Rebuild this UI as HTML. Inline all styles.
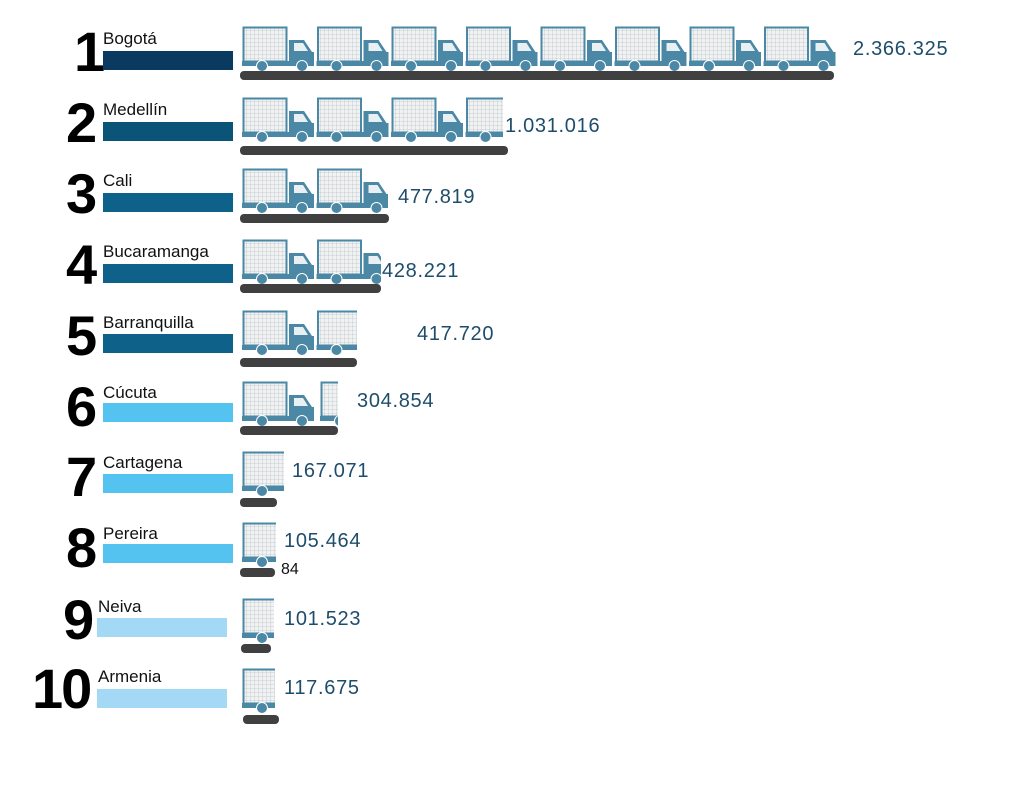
<!DOCTYPE html>
<html><head><meta charset="utf-8"><style>
body{margin:0;width:1024px;height:786px;background:#fff;position:relative;overflow:hidden;font-family:"Liberation Sans",sans-serif}
.n{position:absolute;font-weight:bold;font-size:56px;color:#000;line-height:1;letter-spacing:-2px}
.l{position:absolute;font-size:17px;color:#111;line-height:1}
.b{position:absolute;width:130px;height:19px}
.v{position:absolute;font-size:20px;color:#1e4d6b;line-height:1;letter-spacing:0.7px}
.r{position:absolute;height:9px;background:#404040;border-radius:4px}
svg.t{position:absolute;overflow:hidden}
</style></head><body>
<svg width="0" height="0" style="position:absolute">
<defs>
<pattern id="g" width="4" height="4" patternUnits="userSpaceOnUse"><rect width="4" height="4" fill="#f2f2f2"/><path d="M0 0H4M0 0V4" stroke="#b9c6cc" stroke-width="0.8"/></pattern>
<symbol id="tk" viewBox="0 0 72 46" width="72" height="46">
<rect x="1.5" y="1.5" width="43" height="34" fill="url(#g)" stroke="#4a88a6" stroke-width="2"/>
<path d="M47 14 H62 L70 26 H72 V40 H47 Z" fill="#4a88a6"/>
<path d="M52 17 H61 L66 25 H52 Z" fill="#e8f0f4"/>
<rect x="0" y="35" width="72" height="5" fill="#4a88a6"/>
<circle cx="20" cy="40" r="5.5" fill="#4a88a6" stroke="#fff" stroke-width="1"/>
<circle cx="60" cy="40" r="5.5" fill="#4a88a6" stroke="#fff" stroke-width="1"/>
</symbol>
</defs></svg>

<div class="n" style="left:74px;top:24px">1</div><div class="l" style="left:103px;top:30px">Bogotá</div><div class="b" style="left:103px;top:51px;background:#0b3a60"></div>
<svg class="t" style="left:242px;top:26px" width="596" height="46"><use href="#tk" x="0"/><use href="#tk" x="74.5"/><use href="#tk" x="149"/><use href="#tk" x="223.5"/><use href="#tk" x="298"/><use href="#tk" x="372.5"/><use href="#tk" x="447"/><use href="#tk" x="521.5"/></svg>
<div class="r" style="left:240px;top:71px;width:594px"></div><div class="v" style="left:853px;top:39px">2.366.325</div>

<div class="n" style="left:66px;top:95px">2</div><div class="l" style="left:103px;top:101px">Medellín</div><div class="b" style="left:103px;top:122px;background:#0a5478"></div>
<svg class="t" style="left:242px;top:97px" width="261" height="46"><use href="#tk" x="0"/><use href="#tk" x="74.5"/><use href="#tk" x="149"/><use href="#tk" x="223.5"/></svg>
<div class="r" style="left:240px;top:146px;width:268px"></div><div class="v" style="left:505px;top:116px">1.031.016</div>

<div class="n" style="left:66px;top:166px">3</div><div class="l" style="left:103px;top:172px">Cali</div><div class="b" style="left:103px;top:193px;background:#0e6189"></div>
<svg class="t" style="left:242px;top:168px" width="146" height="46"><use href="#tk" x="0"/><use href="#tk" x="74.5"/></svg>
<div class="r" style="left:240px;top:214px;width:149px"></div><div class="v" style="left:398px;top:187px">477.819</div>

<div class="n" style="left:66px;top:237px">4</div><div class="l" style="left:103px;top:243px">Bucaramanga</div><div class="b" style="left:103px;top:264px;background:#0e6189"></div>
<svg class="t" style="left:242px;top:239px" width="139" height="46"><use href="#tk" x="0"/><use href="#tk" x="74.5"/></svg>
<div class="r" style="left:240px;top:284px;width:141px"></div><div class="v" style="left:382px;top:261px">428.221</div>

<div class="n" style="left:66px;top:308px">5</div><div class="l" style="left:103px;top:314px">Barranquilla</div><div class="b" style="left:103px;top:334px;background:#0e6189"></div>
<svg class="t" style="left:242px;top:310px" width="115" height="46"><use href="#tk" x="0"/><use href="#tk" x="74.5"/></svg>
<div class="r" style="left:240px;top:358px;width:117px"></div><div class="v" style="left:417px;top:324px">417.720</div>

<div class="n" style="left:66px;top:379px">6</div><div class="l" style="left:103px;top:384px">Cúcuta</div><div class="b" style="left:103px;top:403px;background:#55c3ef"></div>
<svg class="t" style="left:242px;top:381px" width="96" height="46"><use href="#tk" x="0"/><use href="#tk" x="78"/></svg>
<div class="r" style="left:240px;top:426px;width:98px"></div><div class="v" style="left:357px;top:391px">304.854</div>

<div class="n" style="left:66px;top:449px">7</div><div class="l" style="left:103px;top:454px">Cartagena</div><div class="b" style="left:103px;top:474px;background:#55c3ef"></div>
<svg class="t" style="left:242px;top:451px" width="42" height="46"><use href="#tk" x="0"/></svg>
<div class="r" style="left:240px;top:498px;width:37px"></div><div class="v" style="left:292px;top:461px">167.071</div>

<div class="n" style="left:66px;top:520px">8</div><div class="l" style="left:103px;top:525px">Pereira</div><div class="b" style="left:103px;top:544px;background:#55c3ef"></div>
<svg class="t" style="left:242px;top:522px" width="34" height="46"><use href="#tk" x="0"/></svg>
<div class="r" style="left:240px;top:568px;width:35px"></div><div class="v" style="left:284px;top:531px">105.464</div>
<div class="l" style="left:281px;top:562px;font-size:16px">84</div>

<div class="n" style="left:63px;top:592px">9</div><div class="l" style="left:98px;top:598px">Neiva</div><div class="b" style="left:97px;top:618px;background:#a4d9f5"></div>
<svg class="t" style="left:242px;top:598px" width="32" height="46"><use href="#tk" x="0"/></svg>
<div class="r" style="left:241px;top:644px;width:30px"></div><div class="v" style="left:284px;top:609px">101.523</div>

<div class="n" style="left:32px;top:661px">10</div><div class="l" style="left:98px;top:668px">Armenia</div><div class="b" style="left:97px;top:689px;background:#a4d9f5"></div>
<svg class="t" style="left:242px;top:668px" width="33" height="46"><use href="#tk" x="0"/></svg>
<div class="r" style="left:243px;top:715px;width:36px"></div><div class="v" style="left:284px;top:678px">117.675</div>
</body></html>
